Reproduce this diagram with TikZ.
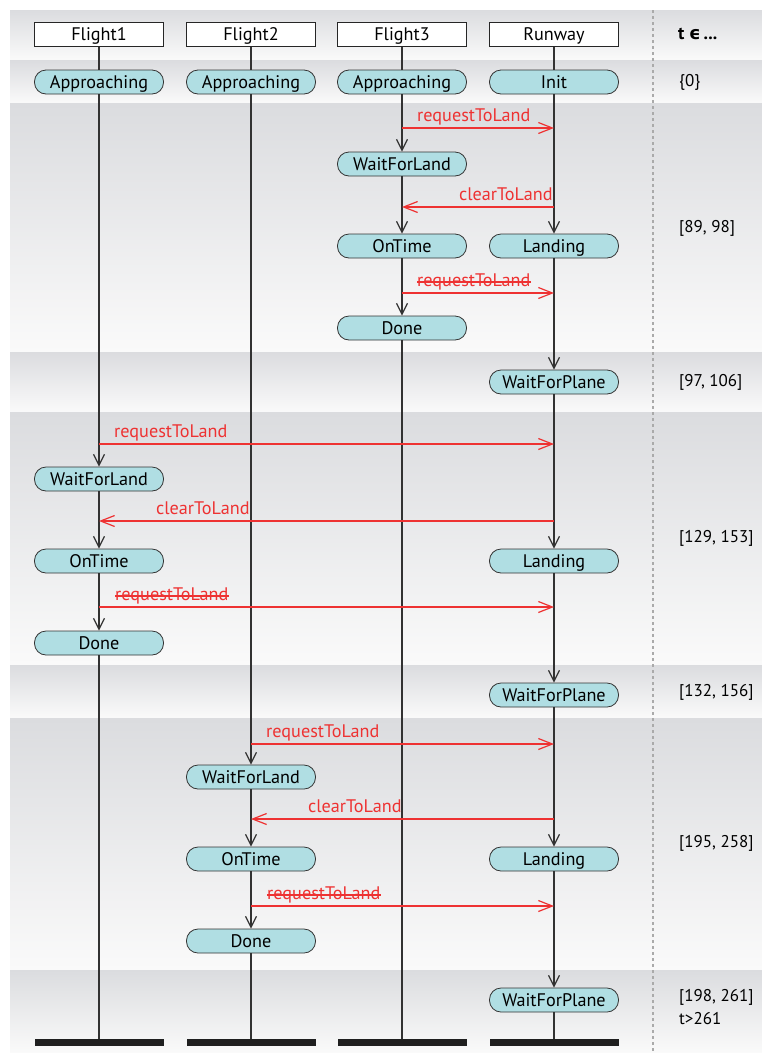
\documentclass[tikz,border=0pt]{standalone}
\usepackage{fontspec}
\setmainfont{PT Sans}
\newfontfamily\symbolfont{DejaVu Sans}
\usetikzlibrary{arrows.meta,calc}

\definecolor{statefill}{RGB}{176,222,227}
\definecolor{msgred}{RGB}{238,50,50}
\definecolor{lifegray}{RGB}{50,50,50}
\definecolor{bandtop}{RGB}{219,220,223}
\definecolor{bandbot}{RGB}{250,250,250}
\definecolor{dotgray}{RGB}{170,170,170}

\begin{document}
\begin{tikzpicture}[x=1pt,y=-1pt,
  font=\fontsize{18.2}{21}\selectfont,
  boxtext/.style={text height=13.5pt, text depth=0pt},
  lane/.style={boxtext, draw=black!85, fill=white, line width=1pt,
    minimum width=129pt, minimum height=24pt, inner sep=0pt},
  state/.style={boxtext, draw=black!80, fill=statefill, line width=0.8pt,
    rounded corners=11.5pt, minimum width=129pt, minimum height=24pt, inner sep=0pt},
  endbar/.style={fill=black!88, minimum width=129pt, minimum height=7pt, inner sep=0pt},
  life/.style={draw=lifegray, line width=1.3pt},
  lifearr/.style={life, -{Straight Barb[length=11pt,width=11pt,line width=1.2pt]}},
  msg/.style={draw=msgred, line width=1.2pt, -{Straight Barb[length=14pt,width=11pt,line width=1.2pt]}},
  msglbl/.style={text=msgred, anchor=base west, inner sep=0pt},
  strike/.style={draw=msgred, line width=1.1pt},
  timelbl/.style={anchor=west, inner sep=0pt, font=\fontsize{17}{20}\selectfont}]

\useasboundingbox (0,0) rectangle (762,1053);

% background bands, one per time window
\foreach \a/\b in {10/60,60/103,103/352,352/412,412/665,665/718,718/970,970/1053}
  \shade[top color=bandtop, bottom color=bandbot] (10,\a) rectangle (762,\b);

% separator between lifelines and time column
\draw[dotgray, line width=2.5pt, dash pattern=on 3pt off 3pt] (653,10) -- (653,1053);

% lane headers
\node[lane] (hF1) at (99,34)  {Flight1};
\node[lane] (hF2) at (251,34) {Flight2};
\node[lane] (hF3) at (402,34) {Flight3};
\node[lane] (hR)  at (554,34) {Runway};

% initial states
\node[state] (a1) at (99,82)  {Approaching};
\node[state] (a2) at (251,82) {Approaching};
\node[state] (a3) at (402,82) {Approaching};
\node[state] (r0) at (554,82) {Init};

% Flight3 landing
\node[state] (w3) at (402,164) {WaitForLand};
\node[state] (o3) at (402,246) {OnTime};
\node[state] (l1) at (554,246) {Landing};
\node[state] (d3) at (402,328) {Done};
\node[state] (p1) at (554,382) {WaitForPlane};

% Flight1 landing
\node[state] (w1) at (99,479)  {WaitForLand};
\node[state] (o1) at (99,561)  {OnTime};
\node[state] (l2) at (554,561) {Landing};
\node[state] (d1) at (99,643)  {Done};
\node[state] (p2) at (554,695) {WaitForPlane};

% Flight2 landing
\node[state] (w2) at (251,777) {WaitForLand};
\node[state] (o2) at (251,859) {OnTime};
\node[state] (l3) at (554,859) {Landing};
\node[state] (d2) at (251,941) {Done};
\node[state] (p3) at (554,1000) {WaitForPlane};

% lifeline ends
\node[endbar] (b1) at (99,1042.5)  {};
\node[endbar] (b2) at (251,1042.5) {};
\node[endbar] (b3) at (402,1042.5) {};
\node[endbar] (b4) at (554,1042.5) {};

% lifelines
\draw[life] (hF1) -- (a1);
\draw[life] (hF2) -- (a2);
\draw[life] (hF3) -- (a3);
\draw[life] (hR) -- (r0);

\draw[lifearr] (a3) -- (w3);
\draw[lifearr] (w3) -- (o3);
\draw[lifearr] (o3) -- (d3);
\draw[life] (d3) -- (b3);

\draw[lifearr] (a1) -- (w1);
\draw[lifearr] (w1) -- (o1);
\draw[lifearr] (o1) -- (d1);
\draw[life] (d1) -- (b1);

\draw[lifearr] (a2) -- (w2);
\draw[lifearr] (w2) -- (o2);
\draw[lifearr] (o2) -- (d2);
\draw[life] (d2) -- (b2);

\draw[lifearr] (r0) -- (l1);
\draw[lifearr] (l1) -- (p1);
\draw[lifearr] (p1) -- (l2);
\draw[lifearr] (l2) -- (p2);
\draw[lifearr] (p2) -- (l3);
\draw[lifearr] (l3) -- (p3);
\draw[life] (p3) -- (b4);

% message end points on the lifelines
\coordinate (q3s) at (402,128); \coordinate (q3e) at (554,128);
\coordinate (c3s) at (554,207); \coordinate (c3e) at (402,207);
\coordinate (s3s) at (402,293); \coordinate (s3e) at (554,293);
\coordinate (q1s) at (99,444);  \coordinate (q1e) at (554,444);
\coordinate (c1s) at (554,521); \coordinate (c1e) at (99,521);
\coordinate (s1s) at (99,607);  \coordinate (s1e) at (554,607);
\coordinate (q2s) at (251,744); \coordinate (q2e) at (554,744);
\coordinate (c2s) at (554,819); \coordinate (c2e) at (251,819);
\coordinate (s2s) at (251,906); \coordinate (s2e) at (554,906);

% messages
\foreach \m in {q3,c3,s3,q1,c1,s1,q2,c2,s2}
  \draw[msg] (\m s) -- (\m e);

\node[msglbl] (q3l) at (417,121.5) {requestToLand};
\node[msglbl] (c3l) at (459,200.5) {clearToLand};
\node[msglbl] (s3l) at (417,286.5) {requestToLand};
\node[msglbl] (q1l) at (114,437.5) {requestToLand};
\node[msglbl] (c1l) at (156,514.5) {clearToLand};
\node[msglbl] (s1l) at (115,600.5) {requestToLand};
\node[msglbl] (q2l) at (266,737.5) {requestToLand};
\node[msglbl] (c2l) at (308,812.5) {clearToLand};
\node[msglbl] (s2l) at (267,899.5) {requestToLand};

% withdrawn requests
\foreach \l in {s3l,s1l,s2l}
  \draw[strike] ($(\l.base west)+(0,-4.5)$) -- ($(\l.base east)+(0,-4.5)$);

% time windows
\node[timelbl, font=\fontsize{18}{20}\selectfont\bfseries] (th) at (678,34)
  {t {\symbolfont\bfseries ϵ}\,...};
\node[timelbl] (t0) at (679,82)  {\{0\}};
\node[timelbl] (t1) at (679,228) {[89, 98]};
\node[timelbl] (t2) at (679,382) {[97, 106]};
\node[timelbl] (t3) at (679,538) {[129, 153]};
\node[timelbl] (t4) at (679,692) {[132, 156]};
\node[timelbl] (t5) at (679,843) {[195, 258]};
\node[timelbl] (t6) at (679,997) {[198, 261]};
\node[timelbl] (t7) at (679,1019) {t>261};
\end{tikzpicture}
\end{document}
